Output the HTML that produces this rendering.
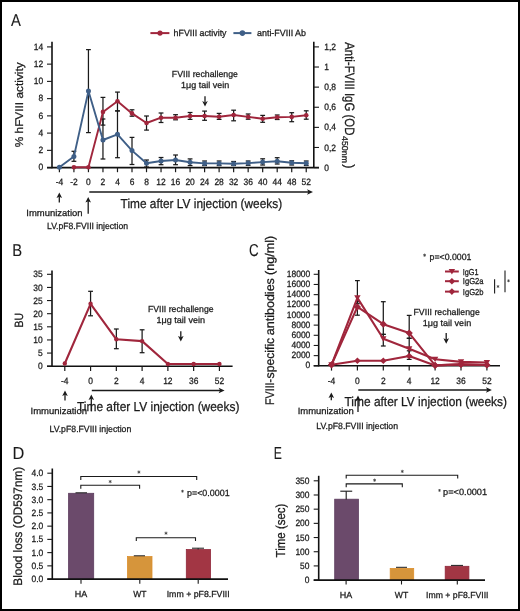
<!DOCTYPE html>
<html><head><meta charset="utf-8"><style>
html,body{margin:0;padding:0;background:#fff;}
.wrap{position:relative;width:520px;height:611px;overflow:hidden;background:#fff;}
.border{position:absolute;left:0;top:0;width:520px;height:611px;box-sizing:border-box;border:2px solid #000;}
svg{position:absolute;left:0;top:0;filter:blur(0.3px);}
text{font-family:"Liberation Sans", sans-serif;}
</style></head><body><div class="wrap">
<svg text-rendering="geometricPrecision" width="520" height="611" viewBox="0 0 520 611">
<text x="11.00" y="25.80" font-size="17.2" text-anchor="start" fill="#1a1a1a" stroke="#1a1a1a" stroke-width="0.1" textLength="9.87" lengthAdjust="spacingAndGlyphs">A</text>
<line x1="150.40" y1="33.10" x2="169.40" y2="33.10" stroke="#a0263c" stroke-width="2"/>
<circle cx="160.00" cy="33.10" r="2.6" fill="#a0263c"/>
<text x="173.60" y="36.20" font-size="9" text-anchor="start" fill="#1a1a1a" stroke="#1a1a1a" stroke-width="0.26" textLength="52.90" lengthAdjust="spacingAndGlyphs">hFVIII activity</text>
<line x1="233.40" y1="33.10" x2="251.40" y2="33.10" stroke="#3f5f87" stroke-width="2"/>
<circle cx="242.40" cy="33.10" r="2.8" fill="#3f5f87"/>
<text x="257.00" y="36.20" font-size="9" text-anchor="start" fill="#1a1a1a" stroke="#1a1a1a" stroke-width="0.26" textLength="49.00" lengthAdjust="spacingAndGlyphs">anti-FVIII Ab</text>
<line x1="52.00" y1="41.80" x2="52.00" y2="168.20" stroke="#111" stroke-width="1.6"/>
<line x1="47.00" y1="167.60" x2="319.00" y2="167.60" stroke="#111" stroke-width="1.6"/>
<line x1="313.80" y1="41.80" x2="313.80" y2="167.60" stroke="#111" stroke-width="1.6"/>
<line x1="47.00" y1="167.60" x2="52.00" y2="167.60" stroke="#1a1a1a" stroke-width="1.1"/>
<text x="43.20" y="170.30" font-size="9.2" text-anchor="end" fill="#1a1a1a" stroke="#1a1a1a" stroke-width="0.26" textLength="4.71" lengthAdjust="spacingAndGlyphs">0</text>
<line x1="47.00" y1="150.36" x2="52.00" y2="150.36" stroke="#1a1a1a" stroke-width="1.1"/>
<text x="43.20" y="153.06" font-size="9.2" text-anchor="end" fill="#1a1a1a" stroke="#1a1a1a" stroke-width="0.26" textLength="4.71" lengthAdjust="spacingAndGlyphs">2</text>
<line x1="47.00" y1="133.11" x2="52.00" y2="133.11" stroke="#1a1a1a" stroke-width="1.1"/>
<text x="43.20" y="135.81" font-size="9.2" text-anchor="end" fill="#1a1a1a" stroke="#1a1a1a" stroke-width="0.26" textLength="4.71" lengthAdjust="spacingAndGlyphs">4</text>
<line x1="47.00" y1="115.87" x2="52.00" y2="115.87" stroke="#1a1a1a" stroke-width="1.1"/>
<text x="43.20" y="118.57" font-size="9.2" text-anchor="end" fill="#1a1a1a" stroke="#1a1a1a" stroke-width="0.26" textLength="4.71" lengthAdjust="spacingAndGlyphs">6</text>
<line x1="47.00" y1="98.63" x2="52.00" y2="98.63" stroke="#1a1a1a" stroke-width="1.1"/>
<text x="43.20" y="101.33" font-size="9.2" text-anchor="end" fill="#1a1a1a" stroke="#1a1a1a" stroke-width="0.26" textLength="4.71" lengthAdjust="spacingAndGlyphs">8</text>
<line x1="47.00" y1="81.39" x2="52.00" y2="81.39" stroke="#1a1a1a" stroke-width="1.1"/>
<text x="43.20" y="84.09" font-size="9.2" text-anchor="end" fill="#1a1a1a" stroke="#1a1a1a" stroke-width="0.26" textLength="9.41" lengthAdjust="spacingAndGlyphs">10</text>
<line x1="47.00" y1="64.14" x2="52.00" y2="64.14" stroke="#1a1a1a" stroke-width="1.1"/>
<text x="43.20" y="66.84" font-size="9.2" text-anchor="end" fill="#1a1a1a" stroke="#1a1a1a" stroke-width="0.26" textLength="9.41" lengthAdjust="spacingAndGlyphs">12</text>
<line x1="47.00" y1="46.90" x2="52.00" y2="46.90" stroke="#1a1a1a" stroke-width="1.1"/>
<text x="43.20" y="49.60" font-size="9.2" text-anchor="end" fill="#1a1a1a" stroke="#1a1a1a" stroke-width="0.26" textLength="9.41" lengthAdjust="spacingAndGlyphs">14</text>
<line x1="313.80" y1="167.60" x2="319.00" y2="167.60" stroke="#1a1a1a" stroke-width="1.1"/>
<text x="324.20" y="170.70" font-size="9.2" text-anchor="start" fill="#1a1a1a" stroke="#1a1a1a" stroke-width="0.26" textLength="4.71" lengthAdjust="spacingAndGlyphs">0</text>
<line x1="313.80" y1="147.48" x2="319.00" y2="147.48" stroke="#1a1a1a" stroke-width="1.1"/>
<text x="324.20" y="150.58" font-size="9.2" text-anchor="start" fill="#1a1a1a" stroke="#1a1a1a" stroke-width="0.26" textLength="11.77" lengthAdjust="spacingAndGlyphs">0,2</text>
<line x1="313.80" y1="127.37" x2="319.00" y2="127.37" stroke="#1a1a1a" stroke-width="1.1"/>
<text x="324.20" y="130.47" font-size="9.2" text-anchor="start" fill="#1a1a1a" stroke="#1a1a1a" stroke-width="0.26" textLength="11.77" lengthAdjust="spacingAndGlyphs">0,4</text>
<line x1="313.80" y1="107.25" x2="319.00" y2="107.25" stroke="#1a1a1a" stroke-width="1.1"/>
<text x="324.20" y="110.35" font-size="9.2" text-anchor="start" fill="#1a1a1a" stroke="#1a1a1a" stroke-width="0.26" textLength="11.77" lengthAdjust="spacingAndGlyphs">0,6</text>
<line x1="313.80" y1="87.13" x2="319.00" y2="87.13" stroke="#1a1a1a" stroke-width="1.1"/>
<text x="324.20" y="90.23" font-size="9.2" text-anchor="start" fill="#1a1a1a" stroke="#1a1a1a" stroke-width="0.26" textLength="11.77" lengthAdjust="spacingAndGlyphs">0,8</text>
<line x1="313.80" y1="67.02" x2="319.00" y2="67.02" stroke="#1a1a1a" stroke-width="1.1"/>
<text x="324.20" y="70.12" font-size="9.2" text-anchor="start" fill="#1a1a1a" stroke="#1a1a1a" stroke-width="0.26" textLength="4.71" lengthAdjust="spacingAndGlyphs">1</text>
<line x1="313.80" y1="46.90" x2="319.00" y2="46.90" stroke="#1a1a1a" stroke-width="1.1"/>
<text x="324.20" y="50.00" font-size="9.2" text-anchor="start" fill="#1a1a1a" stroke="#1a1a1a" stroke-width="0.26" textLength="11.77" lengthAdjust="spacingAndGlyphs">1,2</text>
<line x1="59.40" y1="167.60" x2="59.40" y2="172.20" stroke="#1a1a1a" stroke-width="1.2"/>
<text x="59.40" y="184.70" font-size="9.2" text-anchor="middle" fill="#1a1a1a" stroke="#1a1a1a" stroke-width="0.26" textLength="7.53" lengthAdjust="spacingAndGlyphs">-4</text>
<line x1="73.92" y1="167.60" x2="73.92" y2="172.20" stroke="#1a1a1a" stroke-width="1.2"/>
<text x="73.92" y="184.70" font-size="9.2" text-anchor="middle" fill="#1a1a1a" stroke="#1a1a1a" stroke-width="0.26" textLength="7.53" lengthAdjust="spacingAndGlyphs">-2</text>
<line x1="88.44" y1="167.60" x2="88.44" y2="172.20" stroke="#1a1a1a" stroke-width="1.2"/>
<text x="88.44" y="184.70" font-size="9.2" text-anchor="middle" fill="#1a1a1a" stroke="#1a1a1a" stroke-width="0.26" textLength="4.71" lengthAdjust="spacingAndGlyphs">0</text>
<line x1="102.96" y1="167.60" x2="102.96" y2="172.20" stroke="#1a1a1a" stroke-width="1.2"/>
<text x="102.96" y="184.70" font-size="9.2" text-anchor="middle" fill="#1a1a1a" stroke="#1a1a1a" stroke-width="0.26" textLength="4.71" lengthAdjust="spacingAndGlyphs">2</text>
<line x1="117.48" y1="167.60" x2="117.48" y2="172.20" stroke="#1a1a1a" stroke-width="1.2"/>
<text x="117.48" y="184.70" font-size="9.2" text-anchor="middle" fill="#1a1a1a" stroke="#1a1a1a" stroke-width="0.26" textLength="4.71" lengthAdjust="spacingAndGlyphs">4</text>
<line x1="132.00" y1="167.60" x2="132.00" y2="172.20" stroke="#1a1a1a" stroke-width="1.2"/>
<text x="132.00" y="184.70" font-size="9.2" text-anchor="middle" fill="#1a1a1a" stroke="#1a1a1a" stroke-width="0.26" textLength="4.71" lengthAdjust="spacingAndGlyphs">6</text>
<line x1="146.52" y1="167.60" x2="146.52" y2="172.20" stroke="#1a1a1a" stroke-width="1.2"/>
<text x="146.52" y="184.70" font-size="9.2" text-anchor="middle" fill="#1a1a1a" stroke="#1a1a1a" stroke-width="0.26" textLength="4.71" lengthAdjust="spacingAndGlyphs">8</text>
<line x1="161.04" y1="167.60" x2="161.04" y2="172.20" stroke="#1a1a1a" stroke-width="1.2"/>
<text x="161.04" y="184.70" font-size="9.2" text-anchor="middle" fill="#1a1a1a" stroke="#1a1a1a" stroke-width="0.26" textLength="9.41" lengthAdjust="spacingAndGlyphs">12</text>
<line x1="175.56" y1="167.60" x2="175.56" y2="172.20" stroke="#1a1a1a" stroke-width="1.2"/>
<text x="175.56" y="184.70" font-size="9.2" text-anchor="middle" fill="#1a1a1a" stroke="#1a1a1a" stroke-width="0.26" textLength="9.41" lengthAdjust="spacingAndGlyphs">16</text>
<line x1="190.08" y1="167.60" x2="190.08" y2="172.20" stroke="#1a1a1a" stroke-width="1.2"/>
<text x="190.08" y="184.70" font-size="9.2" text-anchor="middle" fill="#1a1a1a" stroke="#1a1a1a" stroke-width="0.26" textLength="9.41" lengthAdjust="spacingAndGlyphs">20</text>
<line x1="204.60" y1="167.60" x2="204.60" y2="172.20" stroke="#1a1a1a" stroke-width="1.2"/>
<text x="204.60" y="184.70" font-size="9.2" text-anchor="middle" fill="#1a1a1a" stroke="#1a1a1a" stroke-width="0.26" textLength="9.41" lengthAdjust="spacingAndGlyphs">24</text>
<line x1="219.12" y1="167.60" x2="219.12" y2="172.20" stroke="#1a1a1a" stroke-width="1.2"/>
<text x="219.12" y="184.70" font-size="9.2" text-anchor="middle" fill="#1a1a1a" stroke="#1a1a1a" stroke-width="0.26" textLength="9.41" lengthAdjust="spacingAndGlyphs">28</text>
<line x1="233.64" y1="167.60" x2="233.64" y2="172.20" stroke="#1a1a1a" stroke-width="1.2"/>
<text x="233.64" y="184.70" font-size="9.2" text-anchor="middle" fill="#1a1a1a" stroke="#1a1a1a" stroke-width="0.26" textLength="9.41" lengthAdjust="spacingAndGlyphs">32</text>
<line x1="248.16" y1="167.60" x2="248.16" y2="172.20" stroke="#1a1a1a" stroke-width="1.2"/>
<text x="248.16" y="184.70" font-size="9.2" text-anchor="middle" fill="#1a1a1a" stroke="#1a1a1a" stroke-width="0.26" textLength="9.41" lengthAdjust="spacingAndGlyphs">36</text>
<line x1="262.68" y1="167.60" x2="262.68" y2="172.20" stroke="#1a1a1a" stroke-width="1.2"/>
<text x="262.68" y="184.70" font-size="9.2" text-anchor="middle" fill="#1a1a1a" stroke="#1a1a1a" stroke-width="0.26" textLength="9.41" lengthAdjust="spacingAndGlyphs">40</text>
<line x1="277.20" y1="167.60" x2="277.20" y2="172.20" stroke="#1a1a1a" stroke-width="1.2"/>
<text x="277.20" y="184.70" font-size="9.2" text-anchor="middle" fill="#1a1a1a" stroke="#1a1a1a" stroke-width="0.26" textLength="9.41" lengthAdjust="spacingAndGlyphs">44</text>
<line x1="291.72" y1="167.60" x2="291.72" y2="172.20" stroke="#1a1a1a" stroke-width="1.2"/>
<text x="291.72" y="184.70" font-size="9.2" text-anchor="middle" fill="#1a1a1a" stroke="#1a1a1a" stroke-width="0.26" textLength="9.41" lengthAdjust="spacingAndGlyphs">48</text>
<line x1="306.24" y1="167.60" x2="306.24" y2="172.20" stroke="#1a1a1a" stroke-width="1.2"/>
<text x="306.24" y="184.70" font-size="9.2" text-anchor="middle" fill="#1a1a1a" stroke="#1a1a1a" stroke-width="0.26" textLength="9.41" lengthAdjust="spacingAndGlyphs">52</text>
<text x="0" y="0" font-size="11.2" text-anchor="middle" fill="#1a1a1a" stroke="#1a1a1a" stroke-width="0.26" textLength="85.00" lengthAdjust="spacingAndGlyphs" transform="translate(23.00,104.80) rotate(-90)">% hFVIII activity</text>
<text x="0" y="0" font-size="13.5" fill="#1a1a1a" stroke="#1a1a1a" stroke-width="0.26" textLength="93.2" lengthAdjust="spacingAndGlyphs" transform="translate(345.4,42.2) rotate(90)">Anti-FVIII IgG (OD</text>
<text x="0" y="0" font-size="8.6" fill="#1a1a1a" stroke="#1a1a1a" stroke-width="0.26" textLength="27" lengthAdjust="spacingAndGlyphs" transform="translate(342.4,136) rotate(90)">450nm</text>
<text x="0" y="0" font-size="13.5" fill="#1a1a1a" stroke="#1a1a1a" stroke-width="0.26" textLength="4.2" lengthAdjust="spacingAndGlyphs" transform="translate(345.4,164.2) rotate(90)">)</text>
<text x="171.80" y="77.10" font-size="8.8" text-anchor="start" fill="#1a1a1a" stroke="#1a1a1a" stroke-width="0.26" textLength="66.10" lengthAdjust="spacingAndGlyphs">FVIII rechallenge</text>
<text x="181.10" y="88.20" font-size="8.8" text-anchor="start" fill="#1a1a1a" stroke="#1a1a1a" stroke-width="0.26" textLength="48.10" lengthAdjust="spacingAndGlyphs">1μg tail vein</text>
<line x1="205.00" y1="96.20" x2="205.00" y2="102.60" stroke="#1a1a1a" stroke-width="1.3"/>
<path d="M202.20,101.10 L205.00,106.60 L207.80,101.10 L205.00,102.40 Z" fill="#1a1a1a"/>
<line x1="73.92" y1="151.30" x2="73.92" y2="161.30" stroke="#1a1a1a" stroke-width="1.25"/>
<line x1="71.52" y1="151.30" x2="76.32" y2="151.30" stroke="#1a1a1a" stroke-width="1.25"/>
<line x1="71.52" y1="161.30" x2="76.32" y2="161.30" stroke="#1a1a1a" stroke-width="1.25"/>
<line x1="88.44" y1="49.60" x2="88.44" y2="132.60" stroke="#1a1a1a" stroke-width="1.25"/>
<line x1="86.04" y1="49.60" x2="90.84" y2="49.60" stroke="#1a1a1a" stroke-width="1.25"/>
<line x1="86.04" y1="132.60" x2="90.84" y2="132.60" stroke="#1a1a1a" stroke-width="1.25"/>
<line x1="102.96" y1="119.00" x2="102.96" y2="159.00" stroke="#1a1a1a" stroke-width="1.25"/>
<line x1="100.56" y1="119.00" x2="105.36" y2="119.00" stroke="#1a1a1a" stroke-width="1.25"/>
<line x1="100.56" y1="159.00" x2="105.36" y2="159.00" stroke="#1a1a1a" stroke-width="1.25"/>
<line x1="117.48" y1="110.90" x2="117.48" y2="157.70" stroke="#1a1a1a" stroke-width="1.25"/>
<line x1="115.08" y1="110.90" x2="119.88" y2="110.90" stroke="#1a1a1a" stroke-width="1.25"/>
<line x1="115.08" y1="157.70" x2="119.88" y2="157.70" stroke="#1a1a1a" stroke-width="1.25"/>
<line x1="132.00" y1="137.40" x2="132.00" y2="164.50" stroke="#1a1a1a" stroke-width="1.25"/>
<line x1="129.60" y1="137.40" x2="134.40" y2="137.40" stroke="#1a1a1a" stroke-width="1.25"/>
<line x1="129.60" y1="164.50" x2="134.40" y2="164.50" stroke="#1a1a1a" stroke-width="1.25"/>
<line x1="146.52" y1="160.00" x2="146.52" y2="167.00" stroke="#1a1a1a" stroke-width="1.25"/>
<line x1="144.12" y1="160.00" x2="148.92" y2="160.00" stroke="#1a1a1a" stroke-width="1.25"/>
<line x1="144.12" y1="167.00" x2="148.92" y2="167.00" stroke="#1a1a1a" stroke-width="1.25"/>
<line x1="161.04" y1="157.50" x2="161.04" y2="164.70" stroke="#1a1a1a" stroke-width="1.25"/>
<line x1="158.64" y1="157.50" x2="163.44" y2="157.50" stroke="#1a1a1a" stroke-width="1.25"/>
<line x1="158.64" y1="164.70" x2="163.44" y2="164.70" stroke="#1a1a1a" stroke-width="1.25"/>
<line x1="175.56" y1="155.00" x2="175.56" y2="164.70" stroke="#1a1a1a" stroke-width="1.25"/>
<line x1="173.16" y1="155.00" x2="177.96" y2="155.00" stroke="#1a1a1a" stroke-width="1.25"/>
<line x1="173.16" y1="164.70" x2="177.96" y2="164.70" stroke="#1a1a1a" stroke-width="1.25"/>
<line x1="190.08" y1="158.90" x2="190.08" y2="165.60" stroke="#1a1a1a" stroke-width="1.25"/>
<line x1="187.68" y1="158.90" x2="192.48" y2="158.90" stroke="#1a1a1a" stroke-width="1.25"/>
<line x1="187.68" y1="165.60" x2="192.48" y2="165.60" stroke="#1a1a1a" stroke-width="1.25"/>
<line x1="204.60" y1="161.00" x2="204.60" y2="165.60" stroke="#1a1a1a" stroke-width="1.25"/>
<line x1="202.20" y1="161.00" x2="207.00" y2="161.00" stroke="#1a1a1a" stroke-width="1.25"/>
<line x1="202.20" y1="165.60" x2="207.00" y2="165.60" stroke="#1a1a1a" stroke-width="1.25"/>
<line x1="219.12" y1="161.00" x2="219.12" y2="165.60" stroke="#1a1a1a" stroke-width="1.25"/>
<line x1="216.72" y1="161.00" x2="221.52" y2="161.00" stroke="#1a1a1a" stroke-width="1.25"/>
<line x1="216.72" y1="165.60" x2="221.52" y2="165.60" stroke="#1a1a1a" stroke-width="1.25"/>
<line x1="233.64" y1="161.50" x2="233.64" y2="165.50" stroke="#1a1a1a" stroke-width="1.25"/>
<line x1="231.24" y1="161.50" x2="236.04" y2="161.50" stroke="#1a1a1a" stroke-width="1.25"/>
<line x1="231.24" y1="165.50" x2="236.04" y2="165.50" stroke="#1a1a1a" stroke-width="1.25"/>
<line x1="248.16" y1="161.00" x2="248.16" y2="165.30" stroke="#1a1a1a" stroke-width="1.25"/>
<line x1="245.76" y1="161.00" x2="250.56" y2="161.00" stroke="#1a1a1a" stroke-width="1.25"/>
<line x1="245.76" y1="165.30" x2="250.56" y2="165.30" stroke="#1a1a1a" stroke-width="1.25"/>
<line x1="262.68" y1="158.80" x2="262.68" y2="165.00" stroke="#1a1a1a" stroke-width="1.25"/>
<line x1="260.28" y1="158.80" x2="265.08" y2="158.80" stroke="#1a1a1a" stroke-width="1.25"/>
<line x1="260.28" y1="165.00" x2="265.08" y2="165.00" stroke="#1a1a1a" stroke-width="1.25"/>
<line x1="277.20" y1="157.70" x2="277.20" y2="164.00" stroke="#1a1a1a" stroke-width="1.25"/>
<line x1="274.80" y1="157.70" x2="279.60" y2="157.70" stroke="#1a1a1a" stroke-width="1.25"/>
<line x1="274.80" y1="164.00" x2="279.60" y2="164.00" stroke="#1a1a1a" stroke-width="1.25"/>
<line x1="291.72" y1="160.80" x2="291.72" y2="165.00" stroke="#1a1a1a" stroke-width="1.25"/>
<line x1="289.32" y1="160.80" x2="294.12" y2="160.80" stroke="#1a1a1a" stroke-width="1.25"/>
<line x1="289.32" y1="165.00" x2="294.12" y2="165.00" stroke="#1a1a1a" stroke-width="1.25"/>
<line x1="306.24" y1="161.00" x2="306.24" y2="165.50" stroke="#1a1a1a" stroke-width="1.25"/>
<line x1="303.84" y1="161.00" x2="308.64" y2="161.00" stroke="#1a1a1a" stroke-width="1.25"/>
<line x1="303.84" y1="165.50" x2="308.64" y2="165.50" stroke="#1a1a1a" stroke-width="1.25"/>
<line x1="102.96" y1="97.40" x2="102.96" y2="125.10" stroke="#1a1a1a" stroke-width="1.25"/>
<line x1="100.56" y1="97.40" x2="105.36" y2="97.40" stroke="#1a1a1a" stroke-width="1.25"/>
<line x1="100.56" y1="125.10" x2="105.36" y2="125.10" stroke="#1a1a1a" stroke-width="1.25"/>
<line x1="117.48" y1="92.10" x2="117.48" y2="110.90" stroke="#1a1a1a" stroke-width="1.25"/>
<line x1="115.08" y1="92.10" x2="119.88" y2="92.10" stroke="#1a1a1a" stroke-width="1.25"/>
<line x1="115.08" y1="110.90" x2="119.88" y2="110.90" stroke="#1a1a1a" stroke-width="1.25"/>
<line x1="132.00" y1="109.80" x2="132.00" y2="116.20" stroke="#1a1a1a" stroke-width="1.25"/>
<line x1="129.60" y1="109.80" x2="134.40" y2="109.80" stroke="#1a1a1a" stroke-width="1.25"/>
<line x1="129.60" y1="116.20" x2="134.40" y2="116.20" stroke="#1a1a1a" stroke-width="1.25"/>
<line x1="146.52" y1="116.00" x2="146.52" y2="130.10" stroke="#1a1a1a" stroke-width="1.25"/>
<line x1="144.12" y1="116.00" x2="148.92" y2="116.00" stroke="#1a1a1a" stroke-width="1.25"/>
<line x1="144.12" y1="130.10" x2="148.92" y2="130.10" stroke="#1a1a1a" stroke-width="1.25"/>
<line x1="161.04" y1="113.00" x2="161.04" y2="122.50" stroke="#1a1a1a" stroke-width="1.25"/>
<line x1="158.64" y1="113.00" x2="163.44" y2="113.00" stroke="#1a1a1a" stroke-width="1.25"/>
<line x1="158.64" y1="122.50" x2="163.44" y2="122.50" stroke="#1a1a1a" stroke-width="1.25"/>
<line x1="175.56" y1="114.70" x2="175.56" y2="119.80" stroke="#1a1a1a" stroke-width="1.25"/>
<line x1="173.16" y1="114.70" x2="177.96" y2="114.70" stroke="#1a1a1a" stroke-width="1.25"/>
<line x1="173.16" y1="119.80" x2="177.96" y2="119.80" stroke="#1a1a1a" stroke-width="1.25"/>
<line x1="190.08" y1="112.50" x2="190.08" y2="119.40" stroke="#1a1a1a" stroke-width="1.25"/>
<line x1="187.68" y1="112.50" x2="192.48" y2="112.50" stroke="#1a1a1a" stroke-width="1.25"/>
<line x1="187.68" y1="119.40" x2="192.48" y2="119.40" stroke="#1a1a1a" stroke-width="1.25"/>
<line x1="204.60" y1="111.10" x2="204.60" y2="120.30" stroke="#1a1a1a" stroke-width="1.25"/>
<line x1="202.20" y1="111.10" x2="207.00" y2="111.10" stroke="#1a1a1a" stroke-width="1.25"/>
<line x1="202.20" y1="120.30" x2="207.00" y2="120.30" stroke="#1a1a1a" stroke-width="1.25"/>
<line x1="219.12" y1="113.40" x2="219.12" y2="119.40" stroke="#1a1a1a" stroke-width="1.25"/>
<line x1="216.72" y1="113.40" x2="221.52" y2="113.40" stroke="#1a1a1a" stroke-width="1.25"/>
<line x1="216.72" y1="119.40" x2="221.52" y2="119.40" stroke="#1a1a1a" stroke-width="1.25"/>
<line x1="233.64" y1="110.20" x2="233.64" y2="120.80" stroke="#1a1a1a" stroke-width="1.25"/>
<line x1="231.24" y1="110.20" x2="236.04" y2="110.20" stroke="#1a1a1a" stroke-width="1.25"/>
<line x1="231.24" y1="120.80" x2="236.04" y2="120.80" stroke="#1a1a1a" stroke-width="1.25"/>
<line x1="248.16" y1="114.00" x2="248.16" y2="119.20" stroke="#1a1a1a" stroke-width="1.25"/>
<line x1="245.76" y1="114.00" x2="250.56" y2="114.00" stroke="#1a1a1a" stroke-width="1.25"/>
<line x1="245.76" y1="119.20" x2="250.56" y2="119.20" stroke="#1a1a1a" stroke-width="1.25"/>
<line x1="262.68" y1="115.40" x2="262.68" y2="122.30" stroke="#1a1a1a" stroke-width="1.25"/>
<line x1="260.28" y1="115.40" x2="265.08" y2="115.40" stroke="#1a1a1a" stroke-width="1.25"/>
<line x1="260.28" y1="122.30" x2="265.08" y2="122.30" stroke="#1a1a1a" stroke-width="1.25"/>
<line x1="277.20" y1="115.00" x2="277.20" y2="119.50" stroke="#1a1a1a" stroke-width="1.25"/>
<line x1="274.80" y1="115.00" x2="279.60" y2="115.00" stroke="#1a1a1a" stroke-width="1.25"/>
<line x1="274.80" y1="119.50" x2="279.60" y2="119.50" stroke="#1a1a1a" stroke-width="1.25"/>
<line x1="291.72" y1="112.70" x2="291.72" y2="121.70" stroke="#1a1a1a" stroke-width="1.25"/>
<line x1="289.32" y1="112.70" x2="294.12" y2="112.70" stroke="#1a1a1a" stroke-width="1.25"/>
<line x1="289.32" y1="121.70" x2="294.12" y2="121.70" stroke="#1a1a1a" stroke-width="1.25"/>
<line x1="306.24" y1="110.80" x2="306.24" y2="119.20" stroke="#1a1a1a" stroke-width="1.25"/>
<line x1="303.84" y1="110.80" x2="308.64" y2="110.80" stroke="#1a1a1a" stroke-width="1.25"/>
<line x1="303.84" y1="119.20" x2="308.64" y2="119.20" stroke="#1a1a1a" stroke-width="1.25"/>
<polyline points="73.92,167.20 88.44,167.20 102.96,111.90 117.48,101.30 132.00,113.40 146.52,123.00 161.04,117.70 175.56,117.70 190.08,116.00 204.60,116.00 219.12,116.80 233.64,115.00 248.16,116.90 262.68,118.80 277.20,117.30 291.72,116.90 306.24,115.20" fill="none" stroke="#a0263c" stroke-width="1.9" stroke-linejoin="round"/>
<circle cx="73.92" cy="167.20" r="2.3" fill="#a0263c"/>
<circle cx="88.44" cy="167.20" r="2.3" fill="#a0263c"/>
<circle cx="102.96" cy="111.90" r="2.3" fill="#a0263c"/>
<circle cx="117.48" cy="101.30" r="2.3" fill="#a0263c"/>
<circle cx="132.00" cy="113.40" r="2.3" fill="#a0263c"/>
<circle cx="146.52" cy="123.00" r="2.3" fill="#a0263c"/>
<circle cx="161.04" cy="117.70" r="2.3" fill="#a0263c"/>
<circle cx="175.56" cy="117.70" r="2.3" fill="#a0263c"/>
<circle cx="190.08" cy="116.00" r="2.3" fill="#a0263c"/>
<circle cx="204.60" cy="116.00" r="2.3" fill="#a0263c"/>
<circle cx="219.12" cy="116.80" r="2.3" fill="#a0263c"/>
<circle cx="233.64" cy="115.00" r="2.3" fill="#a0263c"/>
<circle cx="248.16" cy="116.90" r="2.3" fill="#a0263c"/>
<circle cx="262.68" cy="118.80" r="2.3" fill="#a0263c"/>
<circle cx="277.20" cy="117.30" r="2.3" fill="#a0263c"/>
<circle cx="291.72" cy="116.90" r="2.3" fill="#a0263c"/>
<circle cx="306.24" cy="115.20" r="2.3" fill="#a0263c"/>
<polyline points="59.40,167.20 73.92,156.60 88.44,91.10 102.96,140.00 117.48,134.30 132.00,150.60 146.52,163.30 161.04,161.00 175.56,160.00 190.08,162.30 204.60,163.40 219.12,163.40 233.64,163.70 248.16,163.10 262.68,162.10 277.20,161.20 291.72,162.70 306.24,163.30" fill="none" stroke="#3f5f87" stroke-width="1.9" stroke-linejoin="round"/>
<circle cx="59.40" cy="167.20" r="2.5" fill="#3f5f87"/>
<circle cx="73.92" cy="156.60" r="2.5" fill="#3f5f87"/>
<circle cx="88.44" cy="91.10" r="2.5" fill="#3f5f87"/>
<circle cx="102.96" cy="140.00" r="2.5" fill="#3f5f87"/>
<circle cx="117.48" cy="134.30" r="2.5" fill="#3f5f87"/>
<circle cx="132.00" cy="150.60" r="2.5" fill="#3f5f87"/>
<circle cx="146.52" cy="163.30" r="2.5" fill="#3f5f87"/>
<circle cx="161.04" cy="161.00" r="2.5" fill="#3f5f87"/>
<circle cx="175.56" cy="160.00" r="2.5" fill="#3f5f87"/>
<circle cx="190.08" cy="162.30" r="2.5" fill="#3f5f87"/>
<circle cx="204.60" cy="163.40" r="2.5" fill="#3f5f87"/>
<circle cx="219.12" cy="163.40" r="2.5" fill="#3f5f87"/>
<circle cx="233.64" cy="163.70" r="2.5" fill="#3f5f87"/>
<circle cx="248.16" cy="163.10" r="2.5" fill="#3f5f87"/>
<circle cx="262.68" cy="162.10" r="2.5" fill="#3f5f87"/>
<circle cx="277.20" cy="161.20" r="2.5" fill="#3f5f87"/>
<circle cx="291.72" cy="162.70" r="2.5" fill="#3f5f87"/>
<circle cx="306.24" cy="163.30" r="2.5" fill="#3f5f87"/>
<line x1="89.30" y1="192.00" x2="309.00" y2="192.00" stroke="#1a1a1a" stroke-width="1.3"/>
<path d="M307.00,189.20 L313.00,192.00 L307.00,194.80 L308.50,192.00 Z" fill="#1a1a1a"/>
<line x1="59.30" y1="196.50" x2="59.30" y2="202.50" stroke="#1a1a1a" stroke-width="1.3"/>
<path d="M56.50,198.00 L59.30,192.50 L62.10,198.00 L59.30,196.70 Z" fill="#1a1a1a"/>
<line x1="88.20" y1="201.00" x2="88.20" y2="213.80" stroke="#1a1a1a" stroke-width="1.3"/>
<path d="M85.40,202.50 L88.20,197.00 L91.00,202.50 L88.20,201.20 Z" fill="#1a1a1a"/>
<text x="120.60" y="207.60" font-size="13" text-anchor="start" fill="#1a1a1a" stroke="#1a1a1a" stroke-width="0.26" textLength="161.50" lengthAdjust="spacingAndGlyphs">Time after LV injection (weeks)</text>
<text x="26.30" y="216.30" font-size="9" text-anchor="start" fill="#1a1a1a" stroke="#1a1a1a" stroke-width="0.26" textLength="56.20" lengthAdjust="spacingAndGlyphs">Immunization</text>
<text x="47.00" y="228.80" font-size="9" text-anchor="start" fill="#1a1a1a" stroke="#1a1a1a" stroke-width="0.26" textLength="81.00" lengthAdjust="spacingAndGlyphs">LV.pF8.FVIII injection</text>
<text x="12.30" y="256.00" font-size="17.2" text-anchor="start" fill="#1a1a1a" stroke="#1a1a1a" stroke-width="0.1" textLength="9.87" lengthAdjust="spacingAndGlyphs">B</text>
<line x1="52.00" y1="270.50" x2="52.00" y2="366.80" stroke="#111" stroke-width="1.6"/>
<line x1="47.00" y1="366.20" x2="232.60" y2="366.20" stroke="#111" stroke-width="1.6"/>
<line x1="47.00" y1="366.20" x2="52.00" y2="366.20" stroke="#1a1a1a" stroke-width="1.1"/>
<text x="42.70" y="369.30" font-size="9.2" text-anchor="end" fill="#1a1a1a" stroke="#1a1a1a" stroke-width="0.26" textLength="4.71" lengthAdjust="spacingAndGlyphs">0</text>
<line x1="47.00" y1="353.07" x2="52.00" y2="353.07" stroke="#1a1a1a" stroke-width="1.1"/>
<text x="42.70" y="356.17" font-size="9.2" text-anchor="end" fill="#1a1a1a" stroke="#1a1a1a" stroke-width="0.26" textLength="4.71" lengthAdjust="spacingAndGlyphs">5</text>
<line x1="47.00" y1="339.94" x2="52.00" y2="339.94" stroke="#1a1a1a" stroke-width="1.1"/>
<text x="42.70" y="343.04" font-size="9.2" text-anchor="end" fill="#1a1a1a" stroke="#1a1a1a" stroke-width="0.26" textLength="9.41" lengthAdjust="spacingAndGlyphs">10</text>
<line x1="47.00" y1="326.81" x2="52.00" y2="326.81" stroke="#1a1a1a" stroke-width="1.1"/>
<text x="42.70" y="329.91" font-size="9.2" text-anchor="end" fill="#1a1a1a" stroke="#1a1a1a" stroke-width="0.26" textLength="9.41" lengthAdjust="spacingAndGlyphs">15</text>
<line x1="47.00" y1="313.69" x2="52.00" y2="313.69" stroke="#1a1a1a" stroke-width="1.1"/>
<text x="42.70" y="316.79" font-size="9.2" text-anchor="end" fill="#1a1a1a" stroke="#1a1a1a" stroke-width="0.26" textLength="9.41" lengthAdjust="spacingAndGlyphs">20</text>
<line x1="47.00" y1="300.56" x2="52.00" y2="300.56" stroke="#1a1a1a" stroke-width="1.1"/>
<text x="42.70" y="303.66" font-size="9.2" text-anchor="end" fill="#1a1a1a" stroke="#1a1a1a" stroke-width="0.26" textLength="9.41" lengthAdjust="spacingAndGlyphs">25</text>
<line x1="47.00" y1="287.43" x2="52.00" y2="287.43" stroke="#1a1a1a" stroke-width="1.1"/>
<text x="42.70" y="290.53" font-size="9.2" text-anchor="end" fill="#1a1a1a" stroke="#1a1a1a" stroke-width="0.26" textLength="9.41" lengthAdjust="spacingAndGlyphs">30</text>
<line x1="47.00" y1="274.30" x2="52.00" y2="274.30" stroke="#1a1a1a" stroke-width="1.1"/>
<text x="42.70" y="277.40" font-size="9.2" text-anchor="end" fill="#1a1a1a" stroke="#1a1a1a" stroke-width="0.26" textLength="9.41" lengthAdjust="spacingAndGlyphs">35</text>
<line x1="64.80" y1="366.20" x2="64.80" y2="371.00" stroke="#1a1a1a" stroke-width="1.2"/>
<text x="64.80" y="383.80" font-size="9.2" text-anchor="middle" fill="#1a1a1a" stroke="#1a1a1a" stroke-width="0.26" textLength="7.53" lengthAdjust="spacingAndGlyphs">-4</text>
<line x1="90.57" y1="366.20" x2="90.57" y2="371.00" stroke="#1a1a1a" stroke-width="1.2"/>
<text x="90.57" y="383.80" font-size="9.2" text-anchor="middle" fill="#1a1a1a" stroke="#1a1a1a" stroke-width="0.26" textLength="4.71" lengthAdjust="spacingAndGlyphs">0</text>
<line x1="116.34" y1="366.20" x2="116.34" y2="371.00" stroke="#1a1a1a" stroke-width="1.2"/>
<text x="116.34" y="383.80" font-size="9.2" text-anchor="middle" fill="#1a1a1a" stroke="#1a1a1a" stroke-width="0.26" textLength="4.71" lengthAdjust="spacingAndGlyphs">2</text>
<line x1="142.11" y1="366.20" x2="142.11" y2="371.00" stroke="#1a1a1a" stroke-width="1.2"/>
<text x="142.11" y="383.80" font-size="9.2" text-anchor="middle" fill="#1a1a1a" stroke="#1a1a1a" stroke-width="0.26" textLength="4.71" lengthAdjust="spacingAndGlyphs">4</text>
<line x1="167.88" y1="366.20" x2="167.88" y2="371.00" stroke="#1a1a1a" stroke-width="1.2"/>
<text x="167.88" y="383.80" font-size="9.2" text-anchor="middle" fill="#1a1a1a" stroke="#1a1a1a" stroke-width="0.26" textLength="9.41" lengthAdjust="spacingAndGlyphs">12</text>
<line x1="193.65" y1="366.20" x2="193.65" y2="371.00" stroke="#1a1a1a" stroke-width="1.2"/>
<text x="193.65" y="383.80" font-size="9.2" text-anchor="middle" fill="#1a1a1a" stroke="#1a1a1a" stroke-width="0.26" textLength="9.41" lengthAdjust="spacingAndGlyphs">36</text>
<line x1="219.42" y1="366.20" x2="219.42" y2="371.00" stroke="#1a1a1a" stroke-width="1.2"/>
<text x="219.42" y="383.80" font-size="9.2" text-anchor="middle" fill="#1a1a1a" stroke="#1a1a1a" stroke-width="0.26" textLength="9.41" lengthAdjust="spacingAndGlyphs">52</text>
<text x="0" y="0" font-size="12" text-anchor="middle" fill="#1a1a1a" stroke="#1a1a1a" stroke-width="0.26" textLength="14.50" lengthAdjust="spacingAndGlyphs" transform="translate(22.80,320.20) rotate(-90)">BU</text>
<line x1="90.57" y1="291.30" x2="90.57" y2="315.80" stroke="#1a1a1a" stroke-width="1.25"/>
<line x1="88.17" y1="291.30" x2="92.97" y2="291.30" stroke="#1a1a1a" stroke-width="1.25"/>
<line x1="88.17" y1="315.80" x2="92.97" y2="315.80" stroke="#1a1a1a" stroke-width="1.25"/>
<line x1="116.34" y1="329.00" x2="116.34" y2="348.70" stroke="#1a1a1a" stroke-width="1.25"/>
<line x1="113.94" y1="329.00" x2="118.74" y2="329.00" stroke="#1a1a1a" stroke-width="1.25"/>
<line x1="113.94" y1="348.70" x2="118.74" y2="348.70" stroke="#1a1a1a" stroke-width="1.25"/>
<line x1="142.11" y1="329.80" x2="142.11" y2="352.70" stroke="#1a1a1a" stroke-width="1.25"/>
<line x1="139.71" y1="329.80" x2="144.51" y2="329.80" stroke="#1a1a1a" stroke-width="1.25"/>
<line x1="139.71" y1="352.70" x2="144.51" y2="352.70" stroke="#1a1a1a" stroke-width="1.25"/>
<polyline points="64.80,363.50 90.57,303.80 116.34,339.30 142.11,341.10 167.88,364.00 193.65,364.00 219.42,364.00" fill="none" stroke="#a0263c" stroke-width="2.1" stroke-linejoin="round"/>
<circle cx="64.80" cy="363.50" r="2.2" fill="#a0263c"/>
<circle cx="90.57" cy="303.80" r="2.2" fill="#a0263c"/>
<circle cx="116.34" cy="339.30" r="2.2" fill="#a0263c"/>
<circle cx="142.11" cy="341.10" r="2.2" fill="#a0263c"/>
<circle cx="167.88" cy="364.00" r="2.2" fill="#a0263c"/>
<circle cx="193.65" cy="364.00" r="2.2" fill="#a0263c"/>
<circle cx="219.42" cy="364.00" r="2.2" fill="#a0263c"/>
<text x="147.90" y="311.80" font-size="8.8" text-anchor="start" fill="#1a1a1a" stroke="#1a1a1a" stroke-width="0.26" textLength="65.70" lengthAdjust="spacingAndGlyphs">FVIII rechallenge</text>
<text x="156.50" y="323.00" font-size="8.8" text-anchor="start" fill="#1a1a1a" stroke="#1a1a1a" stroke-width="0.26" textLength="48.50" lengthAdjust="spacingAndGlyphs">1μg tail vein</text>
<line x1="180.80" y1="331.20" x2="180.80" y2="337.40" stroke="#1a1a1a" stroke-width="1.3"/>
<path d="M178.00,335.90 L180.80,341.40 L183.60,335.90 L180.80,337.20 Z" fill="#1a1a1a"/>
<line x1="91.80" y1="390.50" x2="220.60" y2="390.50" stroke="#1a1a1a" stroke-width="1.3"/>
<path d="M218.60,387.70 L224.60,390.50 L218.60,393.30 L220.10,390.50 Z" fill="#1a1a1a"/>
<line x1="65.00" y1="394.50" x2="65.00" y2="400.50" stroke="#1a1a1a" stroke-width="1.3"/>
<path d="M62.20,396.00 L65.00,390.50 L67.80,396.00 L65.00,394.70 Z" fill="#1a1a1a"/>
<line x1="91.30" y1="398.50" x2="91.30" y2="411.30" stroke="#1a1a1a" stroke-width="1.3"/>
<path d="M88.50,400.00 L91.30,394.50 L94.10,400.00 L91.30,398.70 Z" fill="#1a1a1a"/>
<text x="30.50" y="413.80" font-size="9" text-anchor="start" fill="#1a1a1a" stroke="#1a1a1a" stroke-width="0.26" textLength="56.50" lengthAdjust="spacingAndGlyphs">Immunization</text>
<text x="77.00" y="410.60" font-size="13" text-anchor="start" fill="#1a1a1a" stroke="#1a1a1a" stroke-width="0.26" textLength="162.40" lengthAdjust="spacingAndGlyphs">Time after LV injection (weeks)</text>
<text x="49.50" y="432.00" font-size="9" text-anchor="start" fill="#1a1a1a" stroke="#1a1a1a" stroke-width="0.26" textLength="81.80" lengthAdjust="spacingAndGlyphs">LV.pF8.FVIII injection</text>
<text x="249.00" y="255.60" font-size="17.2" text-anchor="start" fill="#1a1a1a" stroke="#1a1a1a" stroke-width="0.1" textLength="9.69" lengthAdjust="spacingAndGlyphs">C</text>
<line x1="318.70" y1="270.00" x2="318.70" y2="366.40" stroke="#111" stroke-width="1.6"/>
<line x1="313.70" y1="365.80" x2="500.00" y2="365.80" stroke="#111" stroke-width="1.6"/>
<line x1="313.70" y1="365.80" x2="318.70" y2="365.80" stroke="#1a1a1a" stroke-width="1.1"/>
<text x="310.30" y="368.40" font-size="9.2" text-anchor="end" fill="#1a1a1a" stroke="#1a1a1a" stroke-width="0.26" textLength="4.71" lengthAdjust="spacingAndGlyphs">0</text>
<line x1="313.70" y1="355.63" x2="318.70" y2="355.63" stroke="#1a1a1a" stroke-width="1.1"/>
<text x="310.30" y="358.23" font-size="9.2" text-anchor="end" fill="#1a1a1a" stroke="#1a1a1a" stroke-width="0.26" textLength="18.83" lengthAdjust="spacingAndGlyphs">2000</text>
<line x1="313.70" y1="345.47" x2="318.70" y2="345.47" stroke="#1a1a1a" stroke-width="1.1"/>
<text x="310.30" y="348.07" font-size="9.2" text-anchor="end" fill="#1a1a1a" stroke="#1a1a1a" stroke-width="0.26" textLength="18.83" lengthAdjust="spacingAndGlyphs">4000</text>
<line x1="313.70" y1="335.30" x2="318.70" y2="335.30" stroke="#1a1a1a" stroke-width="1.1"/>
<text x="310.30" y="337.90" font-size="9.2" text-anchor="end" fill="#1a1a1a" stroke="#1a1a1a" stroke-width="0.26" textLength="18.83" lengthAdjust="spacingAndGlyphs">6000</text>
<line x1="313.70" y1="325.13" x2="318.70" y2="325.13" stroke="#1a1a1a" stroke-width="1.1"/>
<text x="310.30" y="327.73" font-size="9.2" text-anchor="end" fill="#1a1a1a" stroke="#1a1a1a" stroke-width="0.26" textLength="18.83" lengthAdjust="spacingAndGlyphs">8000</text>
<line x1="313.70" y1="314.97" x2="318.70" y2="314.97" stroke="#1a1a1a" stroke-width="1.1"/>
<text x="310.30" y="317.57" font-size="9.2" text-anchor="end" fill="#1a1a1a" stroke="#1a1a1a" stroke-width="0.26" textLength="23.54" lengthAdjust="spacingAndGlyphs">10000</text>
<line x1="313.70" y1="304.80" x2="318.70" y2="304.80" stroke="#1a1a1a" stroke-width="1.1"/>
<text x="310.30" y="307.40" font-size="9.2" text-anchor="end" fill="#1a1a1a" stroke="#1a1a1a" stroke-width="0.26" textLength="23.54" lengthAdjust="spacingAndGlyphs">12000</text>
<line x1="313.70" y1="294.63" x2="318.70" y2="294.63" stroke="#1a1a1a" stroke-width="1.1"/>
<text x="310.30" y="297.23" font-size="9.2" text-anchor="end" fill="#1a1a1a" stroke="#1a1a1a" stroke-width="0.26" textLength="23.54" lengthAdjust="spacingAndGlyphs">14000</text>
<line x1="313.70" y1="284.47" x2="318.70" y2="284.47" stroke="#1a1a1a" stroke-width="1.1"/>
<text x="310.30" y="287.07" font-size="9.2" text-anchor="end" fill="#1a1a1a" stroke="#1a1a1a" stroke-width="0.26" textLength="23.54" lengthAdjust="spacingAndGlyphs">16000</text>
<line x1="313.70" y1="274.30" x2="318.70" y2="274.30" stroke="#1a1a1a" stroke-width="1.1"/>
<text x="310.30" y="276.90" font-size="9.2" text-anchor="end" fill="#1a1a1a" stroke="#1a1a1a" stroke-width="0.26" textLength="23.54" lengthAdjust="spacingAndGlyphs">18000</text>
<line x1="331.50" y1="365.80" x2="331.50" y2="370.60" stroke="#1a1a1a" stroke-width="1.2"/>
<text x="331.50" y="383.80" font-size="9.2" text-anchor="middle" fill="#1a1a1a" stroke="#1a1a1a" stroke-width="0.26" textLength="7.53" lengthAdjust="spacingAndGlyphs">-4</text>
<line x1="357.40" y1="365.80" x2="357.40" y2="370.60" stroke="#1a1a1a" stroke-width="1.2"/>
<text x="357.40" y="383.80" font-size="9.2" text-anchor="middle" fill="#1a1a1a" stroke="#1a1a1a" stroke-width="0.26" textLength="4.71" lengthAdjust="spacingAndGlyphs">0</text>
<line x1="383.30" y1="365.80" x2="383.30" y2="370.60" stroke="#1a1a1a" stroke-width="1.2"/>
<text x="383.30" y="383.80" font-size="9.2" text-anchor="middle" fill="#1a1a1a" stroke="#1a1a1a" stroke-width="0.26" textLength="4.71" lengthAdjust="spacingAndGlyphs">2</text>
<line x1="409.20" y1="365.80" x2="409.20" y2="370.60" stroke="#1a1a1a" stroke-width="1.2"/>
<text x="409.20" y="383.80" font-size="9.2" text-anchor="middle" fill="#1a1a1a" stroke="#1a1a1a" stroke-width="0.26" textLength="4.71" lengthAdjust="spacingAndGlyphs">4</text>
<line x1="435.10" y1="365.80" x2="435.10" y2="370.60" stroke="#1a1a1a" stroke-width="1.2"/>
<text x="435.10" y="383.80" font-size="9.2" text-anchor="middle" fill="#1a1a1a" stroke="#1a1a1a" stroke-width="0.26" textLength="9.41" lengthAdjust="spacingAndGlyphs">12</text>
<line x1="461.00" y1="365.80" x2="461.00" y2="370.60" stroke="#1a1a1a" stroke-width="1.2"/>
<text x="461.00" y="383.80" font-size="9.2" text-anchor="middle" fill="#1a1a1a" stroke="#1a1a1a" stroke-width="0.26" textLength="9.41" lengthAdjust="spacingAndGlyphs">36</text>
<line x1="486.90" y1="365.80" x2="486.90" y2="370.60" stroke="#1a1a1a" stroke-width="1.2"/>
<text x="486.90" y="383.80" font-size="9.2" text-anchor="middle" fill="#1a1a1a" stroke="#1a1a1a" stroke-width="0.26" textLength="9.41" lengthAdjust="spacingAndGlyphs">52</text>
<text x="0" y="0" font-size="12.5" fill="#1a1a1a" stroke="#1a1a1a" stroke-width="0.26" textLength="26.0" lengthAdjust="spacingAndGlyphs" transform="translate(273.8,404.9) rotate(-90)">FVIII-</text>
<text x="0" y="0" font-size="12.5" fill="#1a1a1a" stroke="#1a1a1a" stroke-width="0.26" textLength="40.6" lengthAdjust="spacingAndGlyphs" transform="translate(273.8,378.4) rotate(-90)">specific</text>
<text x="0" y="0" font-size="12.5" fill="#1a1a1a" stroke="#1a1a1a" stroke-width="0.26" textLength="57.2" lengthAdjust="spacingAndGlyphs" transform="translate(273.8,335.3) rotate(-90)">antibodies</text>
<text x="0" y="0" font-size="12.5" fill="#1a1a1a" stroke="#1a1a1a" stroke-width="0.26" textLength="39.3" lengthAdjust="spacingAndGlyphs" transform="translate(273.8,275.0) rotate(-90)">(ng/ml)</text>
<line x1="357.40" y1="280.60" x2="357.40" y2="303.70" stroke="#1a1a1a" stroke-width="1.25"/>
<line x1="355.00" y1="280.60" x2="359.80" y2="280.60" stroke="#1a1a1a" stroke-width="1.25"/>
<line x1="355.00" y1="303.70" x2="359.80" y2="303.70" stroke="#1a1a1a" stroke-width="1.25"/>
<line x1="357.40" y1="301.70" x2="357.40" y2="315.20" stroke="#1a1a1a" stroke-width="1.25"/>
<line x1="355.00" y1="301.70" x2="359.80" y2="301.70" stroke="#1a1a1a" stroke-width="1.25"/>
<line x1="355.00" y1="315.20" x2="359.80" y2="315.20" stroke="#1a1a1a" stroke-width="1.25"/>
<line x1="383.30" y1="301.70" x2="383.30" y2="334.40" stroke="#1a1a1a" stroke-width="1.25"/>
<line x1="380.90" y1="301.70" x2="385.70" y2="301.70" stroke="#1a1a1a" stroke-width="1.25"/>
<line x1="380.90" y1="334.40" x2="385.70" y2="334.40" stroke="#1a1a1a" stroke-width="1.25"/>
<line x1="383.30" y1="334.40" x2="383.30" y2="346.00" stroke="#1a1a1a" stroke-width="1.25"/>
<line x1="380.90" y1="334.40" x2="385.70" y2="334.40" stroke="#1a1a1a" stroke-width="1.25"/>
<line x1="380.90" y1="346.00" x2="385.70" y2="346.00" stroke="#1a1a1a" stroke-width="1.25"/>
<line x1="409.20" y1="315.40" x2="409.20" y2="338.30" stroke="#1a1a1a" stroke-width="1.25"/>
<line x1="406.80" y1="315.40" x2="411.60" y2="315.40" stroke="#1a1a1a" stroke-width="1.25"/>
<line x1="406.80" y1="338.30" x2="411.60" y2="338.30" stroke="#1a1a1a" stroke-width="1.25"/>
<line x1="409.20" y1="338.30" x2="409.20" y2="356.50" stroke="#1a1a1a" stroke-width="1.25"/>
<line x1="406.80" y1="338.30" x2="411.60" y2="338.30" stroke="#1a1a1a" stroke-width="1.25"/>
<line x1="406.80" y1="356.50" x2="411.60" y2="356.50" stroke="#1a1a1a" stroke-width="1.25"/>
<line x1="409.20" y1="350.80" x2="409.20" y2="359.40" stroke="#1a1a1a" stroke-width="1.25"/>
<line x1="406.80" y1="350.80" x2="411.60" y2="350.80" stroke="#1a1a1a" stroke-width="1.25"/>
<line x1="406.80" y1="359.40" x2="411.60" y2="359.40" stroke="#1a1a1a" stroke-width="1.25"/>
<polyline points="331.50,364.80 357.40,360.80 383.30,360.80 409.20,356.00 435.10,365.40 461.00,364.40 486.90,365.00" fill="none" stroke="#a0263c" stroke-width="2.1" stroke-linejoin="round"/>
<polyline points="331.50,364.80 357.40,297.90 383.30,338.80 409.20,348.80 435.10,359.20 461.00,361.90 486.90,362.50" fill="none" stroke="#a0263c" stroke-width="2.1" stroke-linejoin="round"/>
<polyline points="331.50,364.80 357.40,306.90 383.30,324.20 409.20,333.10 435.10,365.40 461.00,364.40 486.90,365.00" fill="none" stroke="#a0263c" stroke-width="2.1" stroke-linejoin="round"/>
<path d="M328.30,362.24 L334.70,362.24 L331.50,367.68 Z" fill="#a0263c"/>
<path d="M354.20,295.34 L360.60,295.34 L357.40,300.78 Z" fill="#a0263c"/>
<path d="M380.10,336.24 L386.50,336.24 L383.30,341.68 Z" fill="#a0263c"/>
<path d="M406.00,346.24 L412.40,346.24 L409.20,351.68 Z" fill="#a0263c"/>
<path d="M431.90,356.64 L438.30,356.64 L435.10,362.08 Z" fill="#a0263c"/>
<path d="M457.80,359.34 L464.20,359.34 L461.00,364.78 Z" fill="#a0263c"/>
<path d="M483.70,359.94 L490.10,359.94 L486.90,365.38 Z" fill="#a0263c"/>
<path d="M327.90,364.80 L331.50,361.20 L335.10,364.80 L331.50,368.40 Z" fill="#a0263c"/>
<path d="M353.80,306.90 L357.40,303.30 L361.00,306.90 L357.40,310.50 Z" fill="#a0263c"/>
<path d="M379.70,324.20 L383.30,320.60 L386.90,324.20 L383.30,327.80 Z" fill="#a0263c"/>
<path d="M405.60,333.10 L409.20,329.50 L412.80,333.10 L409.20,336.70 Z" fill="#a0263c"/>
<path d="M431.50,365.40 L435.10,361.80 L438.70,365.40 L435.10,369.00 Z" fill="#a0263c"/>
<path d="M457.40,364.40 L461.00,360.80 L464.60,364.40 L461.00,368.00 Z" fill="#a0263c"/>
<path d="M483.30,365.00 L486.90,361.40 L490.50,365.00 L486.90,368.60 Z" fill="#a0263c"/>
<path d="M328.20,364.80 L331.50,361.50 L334.80,364.80 L331.50,368.10 Z" fill="#a0263c"/>
<path d="M354.10,360.80 L357.40,357.50 L360.70,360.80 L357.40,364.10 Z" fill="#a0263c"/>
<path d="M380.00,360.80 L383.30,357.50 L386.60,360.80 L383.30,364.10 Z" fill="#a0263c"/>
<path d="M405.90,356.00 L409.20,352.70 L412.50,356.00 L409.20,359.30 Z" fill="#a0263c"/>
<path d="M431.80,365.40 L435.10,362.10 L438.40,365.40 L435.10,368.70 Z" fill="#a0263c"/>
<path d="M457.70,364.40 L461.00,361.10 L464.30,364.40 L461.00,367.70 Z" fill="#a0263c"/>
<path d="M483.60,365.00 L486.90,361.70 L490.20,365.00 L486.90,368.30 Z" fill="#a0263c"/>
<text x="413.50" y="315.00" font-size="8.8" text-anchor="start" fill="#1a1a1a" stroke="#1a1a1a" stroke-width="0.26" textLength="66.30" lengthAdjust="spacingAndGlyphs">FVIII rechallenge</text>
<text x="422.70" y="326.00" font-size="8.8" text-anchor="start" fill="#1a1a1a" stroke="#1a1a1a" stroke-width="0.26" textLength="48.50" lengthAdjust="spacingAndGlyphs">1μg tail vein</text>
<line x1="446.20" y1="333.00" x2="446.20" y2="339.80" stroke="#1a1a1a" stroke-width="1.3"/>
<path d="M443.40,338.30 L446.20,343.80 L449.00,338.30 L446.20,339.60 Z" fill="#1a1a1a"/>
<path d="M424.60,253.60 L424.60,256.80 M425.99,254.40 L423.21,256.00 M425.99,256.00 L423.21,254.40 " stroke="#3a3a3a" stroke-width="0.75" fill="none"/>
<text x="429.50" y="260.00" font-size="9" text-anchor="start" fill="#1a1a1a" stroke="#1a1a1a" stroke-width="0.26" textLength="42.00" lengthAdjust="spacingAndGlyphs">p=&lt;0.0001</text>
<line x1="445.00" y1="271.50" x2="458.80" y2="271.50" stroke="#a0263c" stroke-width="2"/>
<path d="M448.70,268.94 L455.10,268.94 L451.90,274.38 Z" fill="#a0263c"/>
<text x="462.80" y="274.70" font-size="8.6" text-anchor="start" fill="#1a1a1a" stroke="#1a1a1a" stroke-width="0.26" textLength="15.70" lengthAdjust="spacingAndGlyphs">IgG1</text>
<line x1="445.00" y1="281.20" x2="458.80" y2="281.20" stroke="#a0263c" stroke-width="2"/>
<path d="M448.60,281.20 L451.90,277.90 L455.20,281.20 L451.90,284.50 Z" fill="#a0263c"/>
<text x="462.80" y="284.40" font-size="8.6" text-anchor="start" fill="#1a1a1a" stroke="#1a1a1a" stroke-width="0.26" textLength="20.70" lengthAdjust="spacingAndGlyphs">IgG2a</text>
<line x1="445.00" y1="291.60" x2="458.80" y2="291.60" stroke="#a0263c" stroke-width="2"/>
<path d="M448.60,291.60 L451.90,288.30 L455.20,291.60 L451.90,294.90 Z" fill="#a0263c"/>
<text x="462.80" y="294.80" font-size="8.6" text-anchor="start" fill="#1a1a1a" stroke="#1a1a1a" stroke-width="0.26" textLength="20.70" lengthAdjust="spacingAndGlyphs">IgG2b</text>
<line x1="494.60" y1="279.20" x2="494.60" y2="293.50" stroke="#1a1a1a" stroke-width="1.1"/>
<path d="M498.00,285.10 L498.00,287.90 M499.21,285.80 L496.79,287.20 M499.21,287.20 L496.79,285.80 " stroke="#3a3a3a" stroke-width="0.75" fill="none"/>
<line x1="505.00" y1="270.40" x2="505.00" y2="292.30" stroke="#1a1a1a" stroke-width="1.1"/>
<path d="M508.50,279.40 L508.50,282.20 M509.71,280.10 L507.29,281.50 M509.71,281.50 L507.29,280.10 " stroke="#3a3a3a" stroke-width="0.75" fill="none"/>
<line x1="358.30" y1="390.00" x2="487.90" y2="390.00" stroke="#1a1a1a" stroke-width="1.3"/>
<path d="M485.90,387.20 L491.90,390.00 L485.90,392.80 L487.40,390.00 Z" fill="#1a1a1a"/>
<line x1="331.30" y1="396.50" x2="331.30" y2="400.20" stroke="#1a1a1a" stroke-width="1.3"/>
<path d="M328.50,398.00 L331.30,392.50 L334.10,398.00 L331.30,396.70 Z" fill="#1a1a1a"/>
<line x1="358.00" y1="399.50" x2="358.00" y2="412.00" stroke="#1a1a1a" stroke-width="1.3"/>
<path d="M355.20,401.00 L358.00,395.50 L360.80,401.00 L358.00,399.70 Z" fill="#1a1a1a"/>
<text x="344.50" y="405.60" font-size="13" text-anchor="start" fill="#1a1a1a" stroke="#1a1a1a" stroke-width="0.26" textLength="162.50" lengthAdjust="spacingAndGlyphs">Time after LV injection (weeks)</text>
<text x="297.70" y="413.70" font-size="9" text-anchor="start" fill="#1a1a1a" stroke="#1a1a1a" stroke-width="0.26" textLength="56.10" lengthAdjust="spacingAndGlyphs">Immunization</text>
<text x="316.30" y="429.00" font-size="9" text-anchor="start" fill="#1a1a1a" stroke="#1a1a1a" stroke-width="0.26" textLength="81.70" lengthAdjust="spacingAndGlyphs">LV.pF8.FVIII injection</text>
<text x="12.60" y="459.00" font-size="17.4" text-anchor="start" fill="#1a1a1a" stroke="#1a1a1a" stroke-width="0.1" textLength="11.81" lengthAdjust="spacingAndGlyphs">D</text>
<rect x="68.6" y="493.3" width="25.1" height="85.80" fill="#6b4a6b" stroke="#5c3c5e" stroke-width="0.8"/>
<rect x="127.5" y="556.6" width="24.5" height="22.50" fill="#d6953b" stroke="#dd8f2c" stroke-width="0.8"/>
<rect x="186.3" y="549.6" width="24.2" height="29.50" fill="#a23644" stroke="#90263a" stroke-width="0.8"/>
<line x1="75.50" y1="492.80" x2="87.00" y2="492.80" stroke="#1a1a1a" stroke-width="1.0"/>
<line x1="133.80" y1="555.80" x2="145.00" y2="555.80" stroke="#1a1a1a" stroke-width="1.0"/>
<line x1="192.00" y1="548.20" x2="204.00" y2="548.20" stroke="#1a1a1a" stroke-width="1.0"/>
<line x1="198.10" y1="548.20" x2="198.10" y2="549.50" stroke="#1a1a1a" stroke-width="1.0"/>
<line x1="52.30" y1="468.50" x2="52.30" y2="579.70" stroke="#111" stroke-width="1.6"/>
<line x1="47.30" y1="579.10" x2="228.00" y2="579.10" stroke="#111" stroke-width="1.6"/>
<line x1="47.30" y1="579.10" x2="52.30" y2="579.10" stroke="#1a1a1a" stroke-width="1.1"/>
<text x="43.30" y="582.20" font-size="9.2" text-anchor="end" fill="#1a1a1a" stroke="#1a1a1a" stroke-width="0.26" textLength="11.77" lengthAdjust="spacingAndGlyphs">0.0</text>
<line x1="47.30" y1="565.86" x2="52.30" y2="565.86" stroke="#1a1a1a" stroke-width="1.1"/>
<text x="43.30" y="568.96" font-size="9.2" text-anchor="end" fill="#1a1a1a" stroke="#1a1a1a" stroke-width="0.26" textLength="11.77" lengthAdjust="spacingAndGlyphs">0.5</text>
<line x1="47.30" y1="552.62" x2="52.30" y2="552.62" stroke="#1a1a1a" stroke-width="1.1"/>
<text x="43.30" y="555.73" font-size="9.2" text-anchor="end" fill="#1a1a1a" stroke="#1a1a1a" stroke-width="0.26" textLength="11.77" lengthAdjust="spacingAndGlyphs">1.0</text>
<line x1="47.30" y1="539.39" x2="52.30" y2="539.39" stroke="#1a1a1a" stroke-width="1.1"/>
<text x="43.30" y="542.49" font-size="9.2" text-anchor="end" fill="#1a1a1a" stroke="#1a1a1a" stroke-width="0.26" textLength="11.77" lengthAdjust="spacingAndGlyphs">1.5</text>
<line x1="47.30" y1="526.15" x2="52.30" y2="526.15" stroke="#1a1a1a" stroke-width="1.1"/>
<text x="43.30" y="529.25" font-size="9.2" text-anchor="end" fill="#1a1a1a" stroke="#1a1a1a" stroke-width="0.26" textLength="11.77" lengthAdjust="spacingAndGlyphs">2.0</text>
<line x1="47.30" y1="512.91" x2="52.30" y2="512.91" stroke="#1a1a1a" stroke-width="1.1"/>
<text x="43.30" y="516.01" font-size="9.2" text-anchor="end" fill="#1a1a1a" stroke="#1a1a1a" stroke-width="0.26" textLength="11.77" lengthAdjust="spacingAndGlyphs">2.5</text>
<line x1="47.30" y1="499.68" x2="52.30" y2="499.68" stroke="#1a1a1a" stroke-width="1.1"/>
<text x="43.30" y="502.78" font-size="9.2" text-anchor="end" fill="#1a1a1a" stroke="#1a1a1a" stroke-width="0.26" textLength="11.77" lengthAdjust="spacingAndGlyphs">3.0</text>
<line x1="47.30" y1="486.44" x2="52.30" y2="486.44" stroke="#1a1a1a" stroke-width="1.1"/>
<text x="43.30" y="489.54" font-size="9.2" text-anchor="end" fill="#1a1a1a" stroke="#1a1a1a" stroke-width="0.26" textLength="11.77" lengthAdjust="spacingAndGlyphs">3.5</text>
<line x1="47.30" y1="473.20" x2="52.30" y2="473.20" stroke="#1a1a1a" stroke-width="1.1"/>
<text x="43.30" y="476.30" font-size="9.2" text-anchor="end" fill="#1a1a1a" stroke="#1a1a1a" stroke-width="0.26" textLength="11.77" lengthAdjust="spacingAndGlyphs">4.0</text>
<line x1="81.00" y1="579.10" x2="81.00" y2="583.80" stroke="#1a1a1a" stroke-width="1.1"/>
<text x="81.00" y="596.90" font-size="8.8" text-anchor="middle" fill="#1a1a1a" stroke="#1a1a1a" stroke-width="0.26" textLength="12.50" lengthAdjust="spacingAndGlyphs">HA</text>
<line x1="139.80" y1="579.10" x2="139.80" y2="583.80" stroke="#1a1a1a" stroke-width="1.1"/>
<text x="139.80" y="596.90" font-size="8.8" text-anchor="middle" fill="#1a1a1a" stroke="#1a1a1a" stroke-width="0.26" textLength="13.30" lengthAdjust="spacingAndGlyphs">WT</text>
<line x1="198.20" y1="579.10" x2="198.20" y2="583.80" stroke="#1a1a1a" stroke-width="1.1"/>
<text x="198.20" y="596.90" font-size="8.8" text-anchor="middle" fill="#1a1a1a" stroke="#1a1a1a" stroke-width="0.26" textLength="63.00" lengthAdjust="spacingAndGlyphs">Imm + pF8.FVIII</text>
<text x="0" y="0" font-size="12.3" text-anchor="middle" fill="#1a1a1a" stroke="#1a1a1a" stroke-width="0.26" textLength="118.80" lengthAdjust="spacingAndGlyphs" transform="translate(22.30,526.30) rotate(-90)">Blood loss (OD597nm)</text>
<polyline points="80.80,479.90 80.80,476.50 196.70,476.50 196.70,479.90" fill="none" stroke="#1a1a1a" stroke-width="1.1"/>
<path d="M138.90,470.50 L138.90,473.70 M140.29,471.30 L137.51,472.90 M140.29,472.90 L137.51,471.30 " stroke="#3a3a3a" stroke-width="0.75" fill="none"/>
<polyline points="80.80,488.70 80.80,485.30 139.60,485.30 139.60,488.70" fill="none" stroke="#1a1a1a" stroke-width="1.1"/>
<path d="M110.20,480.00 L110.20,483.20 M111.59,480.80 L108.81,482.40 M111.59,482.40 L108.81,480.80 " stroke="#3a3a3a" stroke-width="0.75" fill="none"/>
<polyline points="136.30,541.10 136.30,537.70 195.50,537.70 195.50,541.10" fill="none" stroke="#1a1a1a" stroke-width="1.1"/>
<path d="M166.00,531.60 L166.00,534.80 M167.39,532.40 L164.61,534.00 M167.39,534.00 L164.61,532.40 " stroke="#3a3a3a" stroke-width="0.75" fill="none"/>
<path d="M182.50,489.80 L182.50,492.60 M183.71,490.50 L181.29,491.90 M183.71,491.90 L181.29,490.50 " stroke="#3a3a3a" stroke-width="0.75" fill="none"/>
<text x="187.00" y="496.30" font-size="9" text-anchor="start" fill="#1a1a1a" stroke="#1a1a1a" stroke-width="0.26" textLength="42.60" lengthAdjust="spacingAndGlyphs">p=&lt;0.0001</text>
<text x="273.70" y="459.00" font-size="17.4" text-anchor="start" fill="#1a1a1a" stroke="#1a1a1a" stroke-width="0.1" textLength="8.12" lengthAdjust="spacingAndGlyphs">E</text>
<rect x="334.7" y="499.2" width="23.7" height="80.90" fill="#6b4a6b" stroke="#5c3c5e" stroke-width="0.8"/>
<rect x="390.2" y="568.4" width="23.5" height="11.70" fill="#d6953b" stroke="#dd8f2c" stroke-width="0.8"/>
<rect x="445.2" y="566.3" width="23.7" height="13.80" fill="#a23644" stroke="#90263a" stroke-width="0.8"/>
<line x1="346.20" y1="491.20" x2="346.20" y2="499.50" stroke="#1a1a1a" stroke-width="1.1"/>
<line x1="340.30" y1="491.20" x2="352.20" y2="491.20" stroke="#1a1a1a" stroke-width="1.1"/>
<line x1="396.00" y1="567.30" x2="407.00" y2="567.30" stroke="#1a1a1a" stroke-width="1.0"/>
<line x1="451.00" y1="565.40" x2="463.00" y2="565.40" stroke="#1a1a1a" stroke-width="1.0"/>
<line x1="318.70" y1="475.80" x2="318.70" y2="580.70" stroke="#111" stroke-width="1.6"/>
<line x1="313.70" y1="580.10" x2="485.00" y2="580.10" stroke="#111" stroke-width="1.6"/>
<line x1="313.70" y1="580.10" x2="318.70" y2="580.10" stroke="#1a1a1a" stroke-width="1.1"/>
<text x="309.50" y="583.20" font-size="9.2" text-anchor="end" fill="#1a1a1a" stroke="#1a1a1a" stroke-width="0.26" textLength="4.71" lengthAdjust="spacingAndGlyphs">0</text>
<line x1="313.70" y1="565.91" x2="318.70" y2="565.91" stroke="#1a1a1a" stroke-width="1.1"/>
<text x="309.50" y="569.01" font-size="9.2" text-anchor="end" fill="#1a1a1a" stroke="#1a1a1a" stroke-width="0.26" textLength="9.41" lengthAdjust="spacingAndGlyphs">50</text>
<line x1="313.70" y1="551.73" x2="318.70" y2="551.73" stroke="#1a1a1a" stroke-width="1.1"/>
<text x="309.50" y="554.83" font-size="9.2" text-anchor="end" fill="#1a1a1a" stroke="#1a1a1a" stroke-width="0.26" textLength="14.12" lengthAdjust="spacingAndGlyphs">100</text>
<line x1="313.70" y1="537.54" x2="318.70" y2="537.54" stroke="#1a1a1a" stroke-width="1.1"/>
<text x="309.50" y="540.64" font-size="9.2" text-anchor="end" fill="#1a1a1a" stroke="#1a1a1a" stroke-width="0.26" textLength="14.12" lengthAdjust="spacingAndGlyphs">150</text>
<line x1="313.70" y1="523.36" x2="318.70" y2="523.36" stroke="#1a1a1a" stroke-width="1.1"/>
<text x="309.50" y="526.46" font-size="9.2" text-anchor="end" fill="#1a1a1a" stroke="#1a1a1a" stroke-width="0.26" textLength="14.12" lengthAdjust="spacingAndGlyphs">200</text>
<line x1="313.70" y1="509.17" x2="318.70" y2="509.17" stroke="#1a1a1a" stroke-width="1.1"/>
<text x="309.50" y="512.27" font-size="9.2" text-anchor="end" fill="#1a1a1a" stroke="#1a1a1a" stroke-width="0.26" textLength="14.12" lengthAdjust="spacingAndGlyphs">250</text>
<line x1="313.70" y1="494.99" x2="318.70" y2="494.99" stroke="#1a1a1a" stroke-width="1.1"/>
<text x="309.50" y="498.09" font-size="9.2" text-anchor="end" fill="#1a1a1a" stroke="#1a1a1a" stroke-width="0.26" textLength="14.12" lengthAdjust="spacingAndGlyphs">300</text>
<line x1="313.70" y1="480.80" x2="318.70" y2="480.80" stroke="#1a1a1a" stroke-width="1.1"/>
<text x="309.50" y="483.90" font-size="9.2" text-anchor="end" fill="#1a1a1a" stroke="#1a1a1a" stroke-width="0.26" textLength="14.12" lengthAdjust="spacingAndGlyphs">350</text>
<line x1="346.10" y1="580.10" x2="346.10" y2="584.50" stroke="#1a1a1a" stroke-width="1.1"/>
<text x="346.10" y="598.10" font-size="8.8" text-anchor="middle" fill="#1a1a1a" stroke="#1a1a1a" stroke-width="0.26" textLength="12.50" lengthAdjust="spacingAndGlyphs">HA</text>
<line x1="401.50" y1="580.10" x2="401.50" y2="584.50" stroke="#1a1a1a" stroke-width="1.1"/>
<text x="401.50" y="598.10" font-size="8.8" text-anchor="middle" fill="#1a1a1a" stroke="#1a1a1a" stroke-width="0.26" textLength="13.50" lengthAdjust="spacingAndGlyphs">WT</text>
<line x1="457.30" y1="580.10" x2="457.30" y2="584.50" stroke="#1a1a1a" stroke-width="1.1"/>
<text x="457.30" y="598.10" font-size="8.8" text-anchor="middle" fill="#1a1a1a" stroke="#1a1a1a" stroke-width="0.26" textLength="62.40" lengthAdjust="spacingAndGlyphs">Imm + pF8.FVIII</text>
<text x="0" y="0" font-size="13" text-anchor="middle" fill="#1a1a1a" stroke="#1a1a1a" stroke-width="0.26" textLength="53.80" lengthAdjust="spacingAndGlyphs" transform="translate(285.00,530.50) rotate(-90)">Time (sec)</text>
<polyline points="346.20,478.60 346.20,475.20 457.70,475.20 457.70,478.60" fill="none" stroke="#1a1a1a" stroke-width="1.1"/>
<path d="M402.30,469.80 L402.30,473.00 M403.69,470.60 L400.91,472.20 M403.69,472.20 L400.91,470.60 " stroke="#3a3a3a" stroke-width="0.75" fill="none"/>
<polyline points="346.20,487.30 346.20,483.90 402.30,483.90 402.30,487.30" fill="none" stroke="#1a1a1a" stroke-width="1.1"/>
<path d="M374.60,478.60 L374.60,481.80 M375.99,479.40 L373.21,481.00 M375.99,481.00 L373.21,479.40 " stroke="#3a3a3a" stroke-width="0.75" fill="none"/>
<path d="M439.50,489.00 L439.50,491.80 M440.71,489.70 L438.29,491.10 M440.71,491.10 L438.29,489.70 " stroke="#3a3a3a" stroke-width="0.75" fill="none"/>
<text x="443.10" y="495.30" font-size="9" text-anchor="start" fill="#1a1a1a" stroke="#1a1a1a" stroke-width="0.26" textLength="44.00" lengthAdjust="spacingAndGlyphs">p=&lt;0.0001</text>
</svg><div class="border"></div></div></body></html>
